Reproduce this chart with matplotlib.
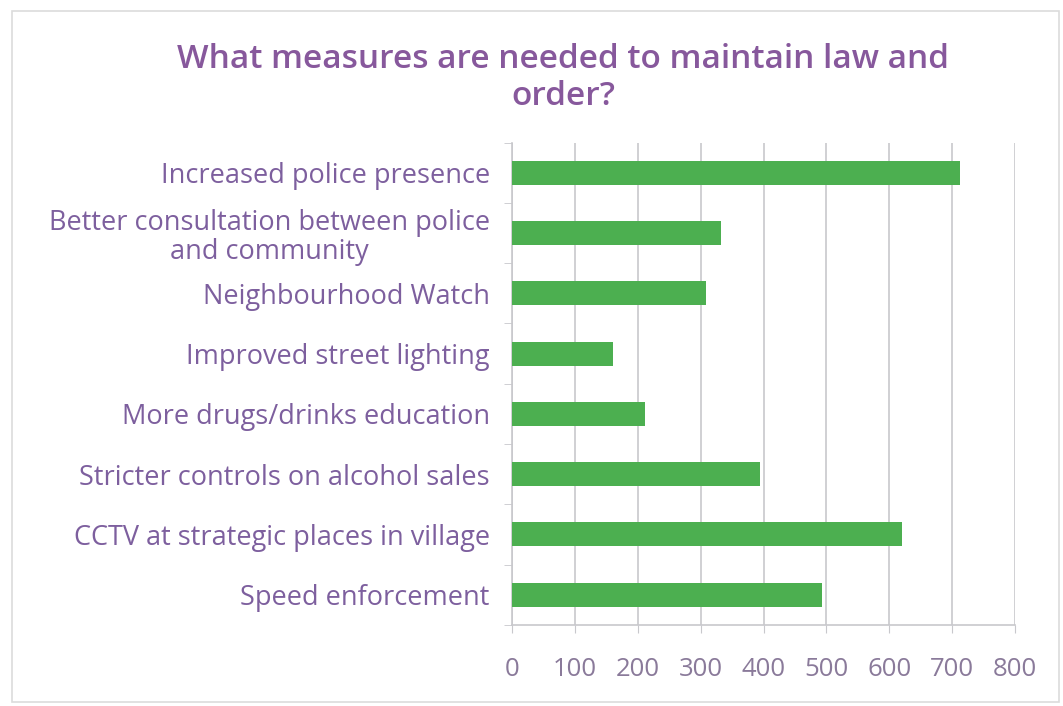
import matplotlib.pyplot as plt
from matplotlib.patches import Rectangle

categories = [
    "Increased police presence",
    "Better consultation between police\nand community",
    "Neighbourhood Watch",
    "Improved street lighting",
    "More drugs/drinks education",
    "Stricter controls on alcohol sales",
    "CCTV at strategic places in village",
    "Speed enforcement",
]
values = [712, 332, 308, 160, 212, 395, 620, 493]
x_ticks = [0, 100, 200, 300, 400, 500, 600, 700, 800]

title_color = "#87589c"
label_color = "#7d5f9e"
tick_color = "#8a7a9a"
bar_color = "#4caf50"
grid_color = "#c8c8cc"

plt.rcParams['font.family'] = ['Open Sans', 'DejaVu Sans']

fig = plt.figure(figsize=(10.63, 7.06), dpi=100)
fig.patches.append(Rectangle((0.011, 0.005), 0.985, 0.98, transform=fig.transFigure,
                             fill=False, edgecolor="#dcdcdc", linewidth=1.2))

ax = fig.add_axes([0.4817, 0.115, 0.4732, 0.683])

y = list(range(len(categories)))
ax.barh(y, values, height=0.4, color=bar_color, zorder=3)
ax.set_ylim(len(categories) - 0.5, -0.5)
ax.set_xlim(0, 800)
ax.set_xticks(x_ticks)
ax.set_xticklabels([str(t) for t in x_ticks], color=tick_color, fontsize=18.5)
ax.set_yticks(y)
ax.set_yticklabels(categories, color=label_color, fontsize=19.5,
                   multialignment='center', linespacing=1.05)
ax.tick_params(axis='y', length=0, pad=16)
ax.tick_params(axis='x', length=6, color=grid_color, pad=17, direction='out')

# category separator ticks on the y axis
ax.set_yticks([i - 0.5 for i in range(len(categories) + 1)], minor=True)
ax.tick_params(axis='y', which='minor', length=6, color=grid_color)

ax.grid(axis='x', color=grid_color, linewidth=1.2, zorder=0)
for s in ['top', 'right']:
    ax.spines[s].set_visible(False)
ax.spines['left'].set_color(grid_color)
ax.spines['bottom'].set_color(grid_color)
ax.spines['left'].set_linewidth(1.2)
ax.spines['bottom'].set_linewidth(1.2)

fig.text(0.530, 0.889, "What measures are needed to maintain law and\norder?",
         ha='center', va='center', fontsize=24, fontweight='semibold',
         color=title_color, linespacing=1.15)

fig.savefig("out.png", dpi=100)
